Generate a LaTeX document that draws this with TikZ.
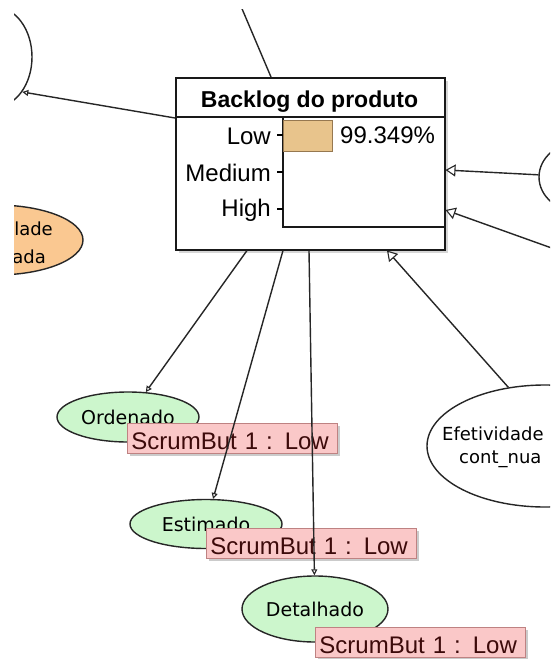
\documentclass[tikz,border=0pt]{standalone}
\usepackage{fontspec}
\setmainfont{Liberation Sans}
\newfontfamily\dejavu{DejaVu Sans}
\usetikzlibrary{arrows.meta,shapes.geometric,shadows,calc}

\definecolor{nodegreen}{RGB}{204,246,204}
\definecolor{nodeorange}{RGB}{250,200,145}
\definecolor{tagpink}{RGB}{250,200,200}
\definecolor{tagedge}{RGB}{190,130,130}
\definecolor{tagtext}{RGB}{60,10,10}
\definecolor{barfill}{RGB}{232,196,140}
\definecolor{baredge}{RGB}{150,120,80}

\begin{document}
\begin{tikzpicture}[x=1pt,y=-1pt,
  edge/.style={line width=1.4pt, draw=black!85},
  smalltip/.style={-{Triangle[open,length=6pt,width=6pt,fill=white,line width=1.1pt]}},
  bigtip/.style={-{Triangle[open,length=10pt,width=12pt,fill=white,line width=1.1pt]}},
  oval/.style={ellipse, draw=black!85, line width=1.4pt, inner sep=0pt},
  state/.style={oval, fill=nodegreen, font=\dejavu\fontsize{19}{22}\selectfont},
  tag/.style={rectangle, draw=tagedge, line width=0.9pt, fill=tagpink,
    anchor=north west, minimum height=30pt, inner xsep=4pt, inner ysep=0pt,
    text width=202pt, align=left, text height=22pt, text depth=0pt,
    text=tagtext, font=\fontsize{24}{28}\selectfont,
    drop shadow={shadow xshift=3pt, shadow yshift=-3pt, opacity=0.45, fill=black!45}},
  level/.style={anchor=base east, inner sep=0pt, font=\fontsize{24}{28}\selectfont},
  ovaltext/.style={inner sep=0pt, font=\dejavu\fontsize{18}{22}\selectfont}
]
\useasboundingbox (0,0) rectangle (550,659);
\fill[white] (0,0) rectangle (550,659);

\begin{scope}
\clip (14,9) rectangle (550,659);

% neighbouring variables
\node[oval, minimum width=74pt, minimum height=100pt] (lt) at (-5,57) {};
\node[oval, fill=nodeorange, minimum width=174pt, minimum height=70pt] (orn) at (-4,240) {};
\node[ovaltext, anchor=base east] (orna) at (53,235) {lade};
\node[ovaltext, anchor=base east] (ornb) at (46,263) {ada};
\node[oval, minimum width=82pt, minimum height=70pt] (rt) at (580,177) {};
\node[oval, fill=white, minimum width=236pt, minimum height=122pt] (ef) at (545,446) {};
\node[ovaltext, anchor=base west] (efa) at (442,440) {Efetividade};
\node[ovaltext, anchor=base west] (efb) at (459,463) {cont\_nua};
\coordinate (tp) at (240,4);
\coordinate (rb) at (560,251);

% child states with their evidence tags
\node[state, minimum width=142pt, minimum height=50pt] (ord) at (128,417) {Ordenado};
\node[state, minimum width=152pt, minimum height=49pt] (est) at (206,524) {Estimado};
\node[state, minimum width=146pt, minimum height=66pt] (det) at (315,609) {Detalhado};
\node[tag] (tord) at (127,423) {ScrumBut 1 : Low};
\node[tag] (test) at (206,528) {ScrumBut 1 : Low};
\node[tag] (tdet) at (315,627) {ScrumBut 1 : Low};

% belief bar node
\node[draw=black!90, line width=1.5pt, fill=white, anchor=north west, inner sep=0pt,
      minimum width=269pt, minimum height=172pt,
      drop shadow={shadow xshift=3pt, shadow yshift=-3pt, opacity=0.4, fill=black!40}]
      (bp) at (175,77) {};
\draw[line width=1.4pt, black!90] (175,117) -- (444,117);
\node[anchor=base, inner sep=0pt, font=\bfseries\fontsize{23}{26}\selectfont]
      (bptitle) at (309.5,107) {Backlog do produto};
\draw[line width=1.4pt, black!90] (283,117) -- (283,227) -- (444,227);
\draw[fill=barfill, draw=baredge, line width=1pt] (283.5,120) rectangle (332,151);
\foreach \yy in {135,172,209} \draw[line width=1.1pt] (277,\yy) -- (283,\yy);
\node[level] (lvlow) at (271,144) {Low};
\node[level] (lvmed) at (271,181) {Medium};
\node[level] (lvhigh) at (271,216) {High};
\node[anchor=base west, inner sep=0pt, font=\fontsize{24}{28}\selectfont]
      (pct) at (340,143) {99.349\%};

% links
\draw[edge] ($(bp.north west)+(96,0)$) -- (tp);
\draw[edge, smalltip] ($(bp.north west)+(0,41)$) -- (lt.-52);
\draw[edge, bigtip] (rt) -- ($(bp.north east)+(0,93)$);
\draw[edge, bigtip] (rb) -- ($(bp.north east)+(0,133)$);
\draw[edge, bigtip] (ef.122) -- ($(bp.south west)+(212,0)$);
\draw[edge, smalltip] ($(bp.south west)+(72,0)$) -- (ord);
\draw[edge, smalltip] ($(bp.south west)+(108,0)$) -- (est);
\draw[edge, smalltip] ($(bp.south west)+(134,0)$) -- (det);
\end{scope}
\end{tikzpicture}
\end{document}
